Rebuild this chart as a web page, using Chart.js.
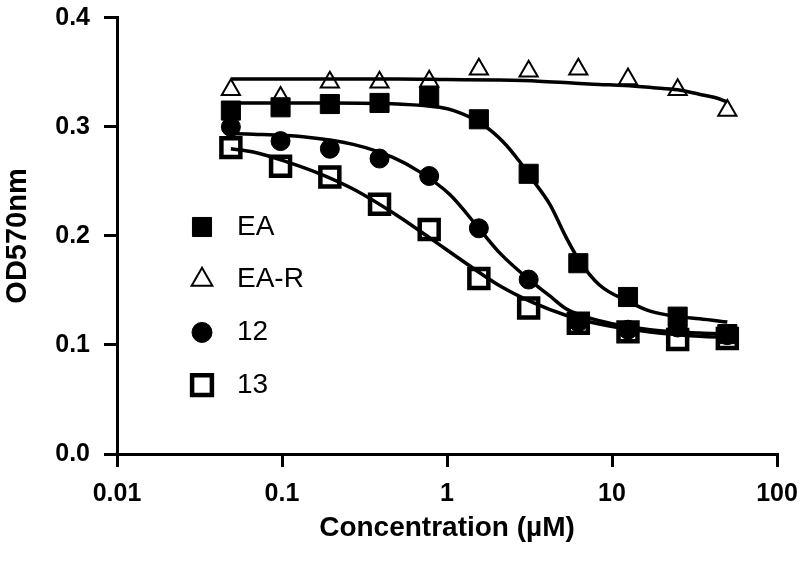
<!DOCTYPE html>
<html><head><meta charset="utf-8">
<script src="https://cdn.jsdelivr.net/npm/chart.js@4/dist/chart.umd.min.js"></script>
<style>html,body{margin:0;padding:0;background:#fff}#wrap{width:800px;height:561px;position:relative}</style>
</head><body><div id="wrap"><canvas id="c" width="800" height="561"></canvas></div>
<script>
// ---- data ----
const concentrations = [0.049, 0.098, 0.195, 0.39, 0.78, 1.56, 3.125, 6.25, 12.5, 25, 50];
const seriesNames = ['EA', 'EA-R', '12', '13'];
const valuesEA  = [0.315, 0.318, 0.321, 0.322, 0.328, 0.307, 0.257, 0.175, 0.144, 0.126, 0.110];
const valuesEAR = [0.334, 0.327, 0.341, 0.341, 0.342, 0.353, 0.351, 0.353, 0.344, 0.334, 0.315];
const values12  = [0.300, 0.287, 0.280, 0.271, 0.255, 0.207, 0.160, 0.121, 0.114, 0.116, 0.109];
const values13  = [0.281, 0.264, 0.254, 0.229, 0.206, 0.161, 0.134, 0.120, 0.112, 0.105, 0.106];

// fitted curves, points
const fitEA_x  = [0.049, 0.2, 0.5, 0.9, 1.1, 1.58, 2.2, 2.76, 3.1, 4.2, 5.3, 6.3, 8.4, 12.5, 17, 25, 34, 50];
const fitEA_y  = [0.322, 0.322, 0.321, 0.318, 0.315, 0.304, 0.286, 0.268, 0.257, 0.229, 0.198, 0.178, 0.155, 0.140, 0.131, 0.126, 0.124, 0.121];
const fitEAR_x = [0.049, 0.5, 1, 2, 3.6, 6, 8.4, 12, 17.8, 25, 33.8, 42, 50];
const fitEAR_y = [0.344, 0.344, 0.3435, 0.343, 0.342, 0.340, 0.339, 0.338, 0.336, 0.334, 0.330, 0.327, 0.323];
const fit12_x  = [0.049, 0.061, 0.134, 0.27, 0.47, 0.68, 1.04, 1.56, 2.1, 3.2, 4.2, 5.3, 8.5, 17, 34, 50];
const fit12_y  = [0.294, 0.2935, 0.291, 0.284, 0.272, 0.259, 0.238, 0.207, 0.184, 0.159, 0.145, 0.133, 0.122, 0.114, 0.111, 0.110];
const fit13_x  = [0.049, 0.067, 0.107, 0.17, 0.27, 0.52, 0.79, 1.33, 2.1, 3.3, 5.3, 8.5, 17, 34, 50];
const fit13_y  = [0.280, 0.277, 0.268, 0.257, 0.243, 0.217, 0.198, 0.174, 0.154, 0.139, 0.127, 0.119, 0.112, 0.108, 0.107];

const xTickValues = [0.01, 0.1, 1, 10, 100];
const xTickLabels = ['0.01', '0.1', '1', '10', '100'];
const yTickValues = [0, 0.1, 0.2, 0.3, 0.4];
const yTickLabels = ['0.0', '0.1', '0.2', '0.3', '0.4'];
const xTitle = 'Concentration (\u00B5M)';
const yTitle = 'OD570nm';

// ---- build ----
const FONT = "'Liberation Sans', Arial, Helvetica, sans-serif";
const pts = (xs, ys) => xs.map((x, i) => ({x: x, y: ys[i]}));

const markerStyles = [
  {pointStyle: 'rect', pointRadius: 13.5, backgroundColor: '#000', borderColor: '#000', borderWidth: 1},
  {pointStyle: 'triangle', pointRadius: 10.5, backgroundColor: '#fff', borderColor: '#000', borderWidth: 2},
  {pointStyle: 'circle', pointRadius: 9.5, backgroundColor: '#000', borderColor: '#000', borderWidth: 1},
  {pointStyle: 'rect', pointRadius: 13.4, backgroundColor: '#fff', borderColor: '#000', borderWidth: 4.5}
];
const legendStyles = [
  {pointStyle: 'rect', radius: 13.5, fill: '#000', borderWidth: 1},
  {pointStyle: 'triangle', radius: 12, fill: '#fff', borderWidth: 2},
  {pointStyle: 'circle', radius: 10, fill: '#000', borderWidth: 1},
  {pointStyle: 'rect', radius: 14, fill: '#fff', borderWidth: 4.5}
];
const seriesValues = [valuesEA, valuesEAR, values12, values13];
const fits = [[fitEA_x, fitEA_y], [fitEAR_x, fitEAR_y], [fit12_x, fit12_y], [fit13_x, fit13_y]];

const datasets = [];
fits.forEach((f, i) => {
  datasets.push({
    label: seriesNames[i] + ' fit',
    data: pts(f[0], f[1]),
    showLine: true,
    borderColor: '#000',
    borderWidth: 3.5,
    pointRadius: 0,
    pointHoverRadius: 0,
    cubicInterpolationMode: 'monotone',
    fill: false,
    order: 0
  });
});
seriesValues.forEach((vals, i) => {
  datasets.push(Object.assign({
    label: seriesNames[i],
    data: pts(concentrations, vals),
    showLine: false,
    order: 1
  }, markerStyles[i]));
});

const legendPlugin = {
  id: 'customLegend',
  afterDraw(chart) {
    const ctx = chart.ctx;
    const mx = 202, tx = 237, y0 = 227, dy = 52.7;
    ctx.save();
    seriesNames.forEach((name, i) => {
      const s = legendStyles[i];
      const y = y0 + i * dy;
      ctx.fillStyle = s.fill;
      ctx.strokeStyle = '#000';
      ctx.lineWidth = s.borderWidth;
      Chart.helpers.drawPoint(ctx, {pointStyle: s.pointStyle, radius: s.radius, borderWidth: s.borderWidth, rotation: 0}, mx, y);
      ctx.fillStyle = '#000';
      ctx.font = '28px ' + FONT;
      ctx.textAlign = 'left';
      ctx.textBaseline = 'middle';
      ctx.fillText(name, tx, y);
    });
    ctx.restore();
  }
};

new Chart(document.getElementById('c'), {
  type: 'scatter',
  data: {datasets: datasets},
  options: {
    responsive: false,
    animation: false,
    devicePixelRatio: 1,
    layout: {padding: {top: 15, right: 23, left: 0, bottom: 0}},
    plugins: {legend: {display: false}, tooltip: {enabled: false}},
    scales: {
      x: {
        type: 'logarithmic',
        min: 0.01, max: 100,
        afterBuildTicks: s => { s.ticks = xTickValues.map(v => ({value: v})); },
        afterFit: s => { s.height = 107; s.paddingLeft = 0; s.paddingRight = 0; },
        grid: {display: true, drawOnChartArea: false, drawTicks: true, tickLength: 13, color: '#000', lineWidth: 3},
        border: {display: true, color: '#000', width: 3},
        ticks: {
          autoSkip: false, maxRotation: 0, padding: 12, color: '#000',
          font: {family: FONT, size: 25, weight: 'bold'},
          callback: (v, i) => xTickLabels[i]
        },
        title: {display: true, text: xTitle, color: '#000', font: {family: FONT, size: 28, weight: 'bold'}, padding: {top: 0, bottom: 16}}
      },
      y: {
        type: 'linear',
        min: 0, max: 0.4,
        afterBuildTicks: s => { s.ticks = yTickValues.map(v => ({value: v})); },
        afterFit: s => { s.width = 117; s.paddingTop = 0; s.paddingBottom = 0; },
        grid: {display: true, drawOnChartArea: false, drawTicks: true, tickLength: 13, color: '#000', lineWidth: 3},
        border: {display: true, color: '#000', width: 3},
        ticks: {
          padding: 14, color: '#000',
          font: {family: FONT, size: 25, weight: 'bold'},
          callback: (v, i) => yTickLabels[i]
        },
        title: {display: true, text: yTitle, color: '#000', font: {family: FONT, size: 29, weight: 'bold'}, padding: {top: 1, bottom: 0}}
      }
    }
  },
  plugins: [legendPlugin]
});
</script>
</body></html>
